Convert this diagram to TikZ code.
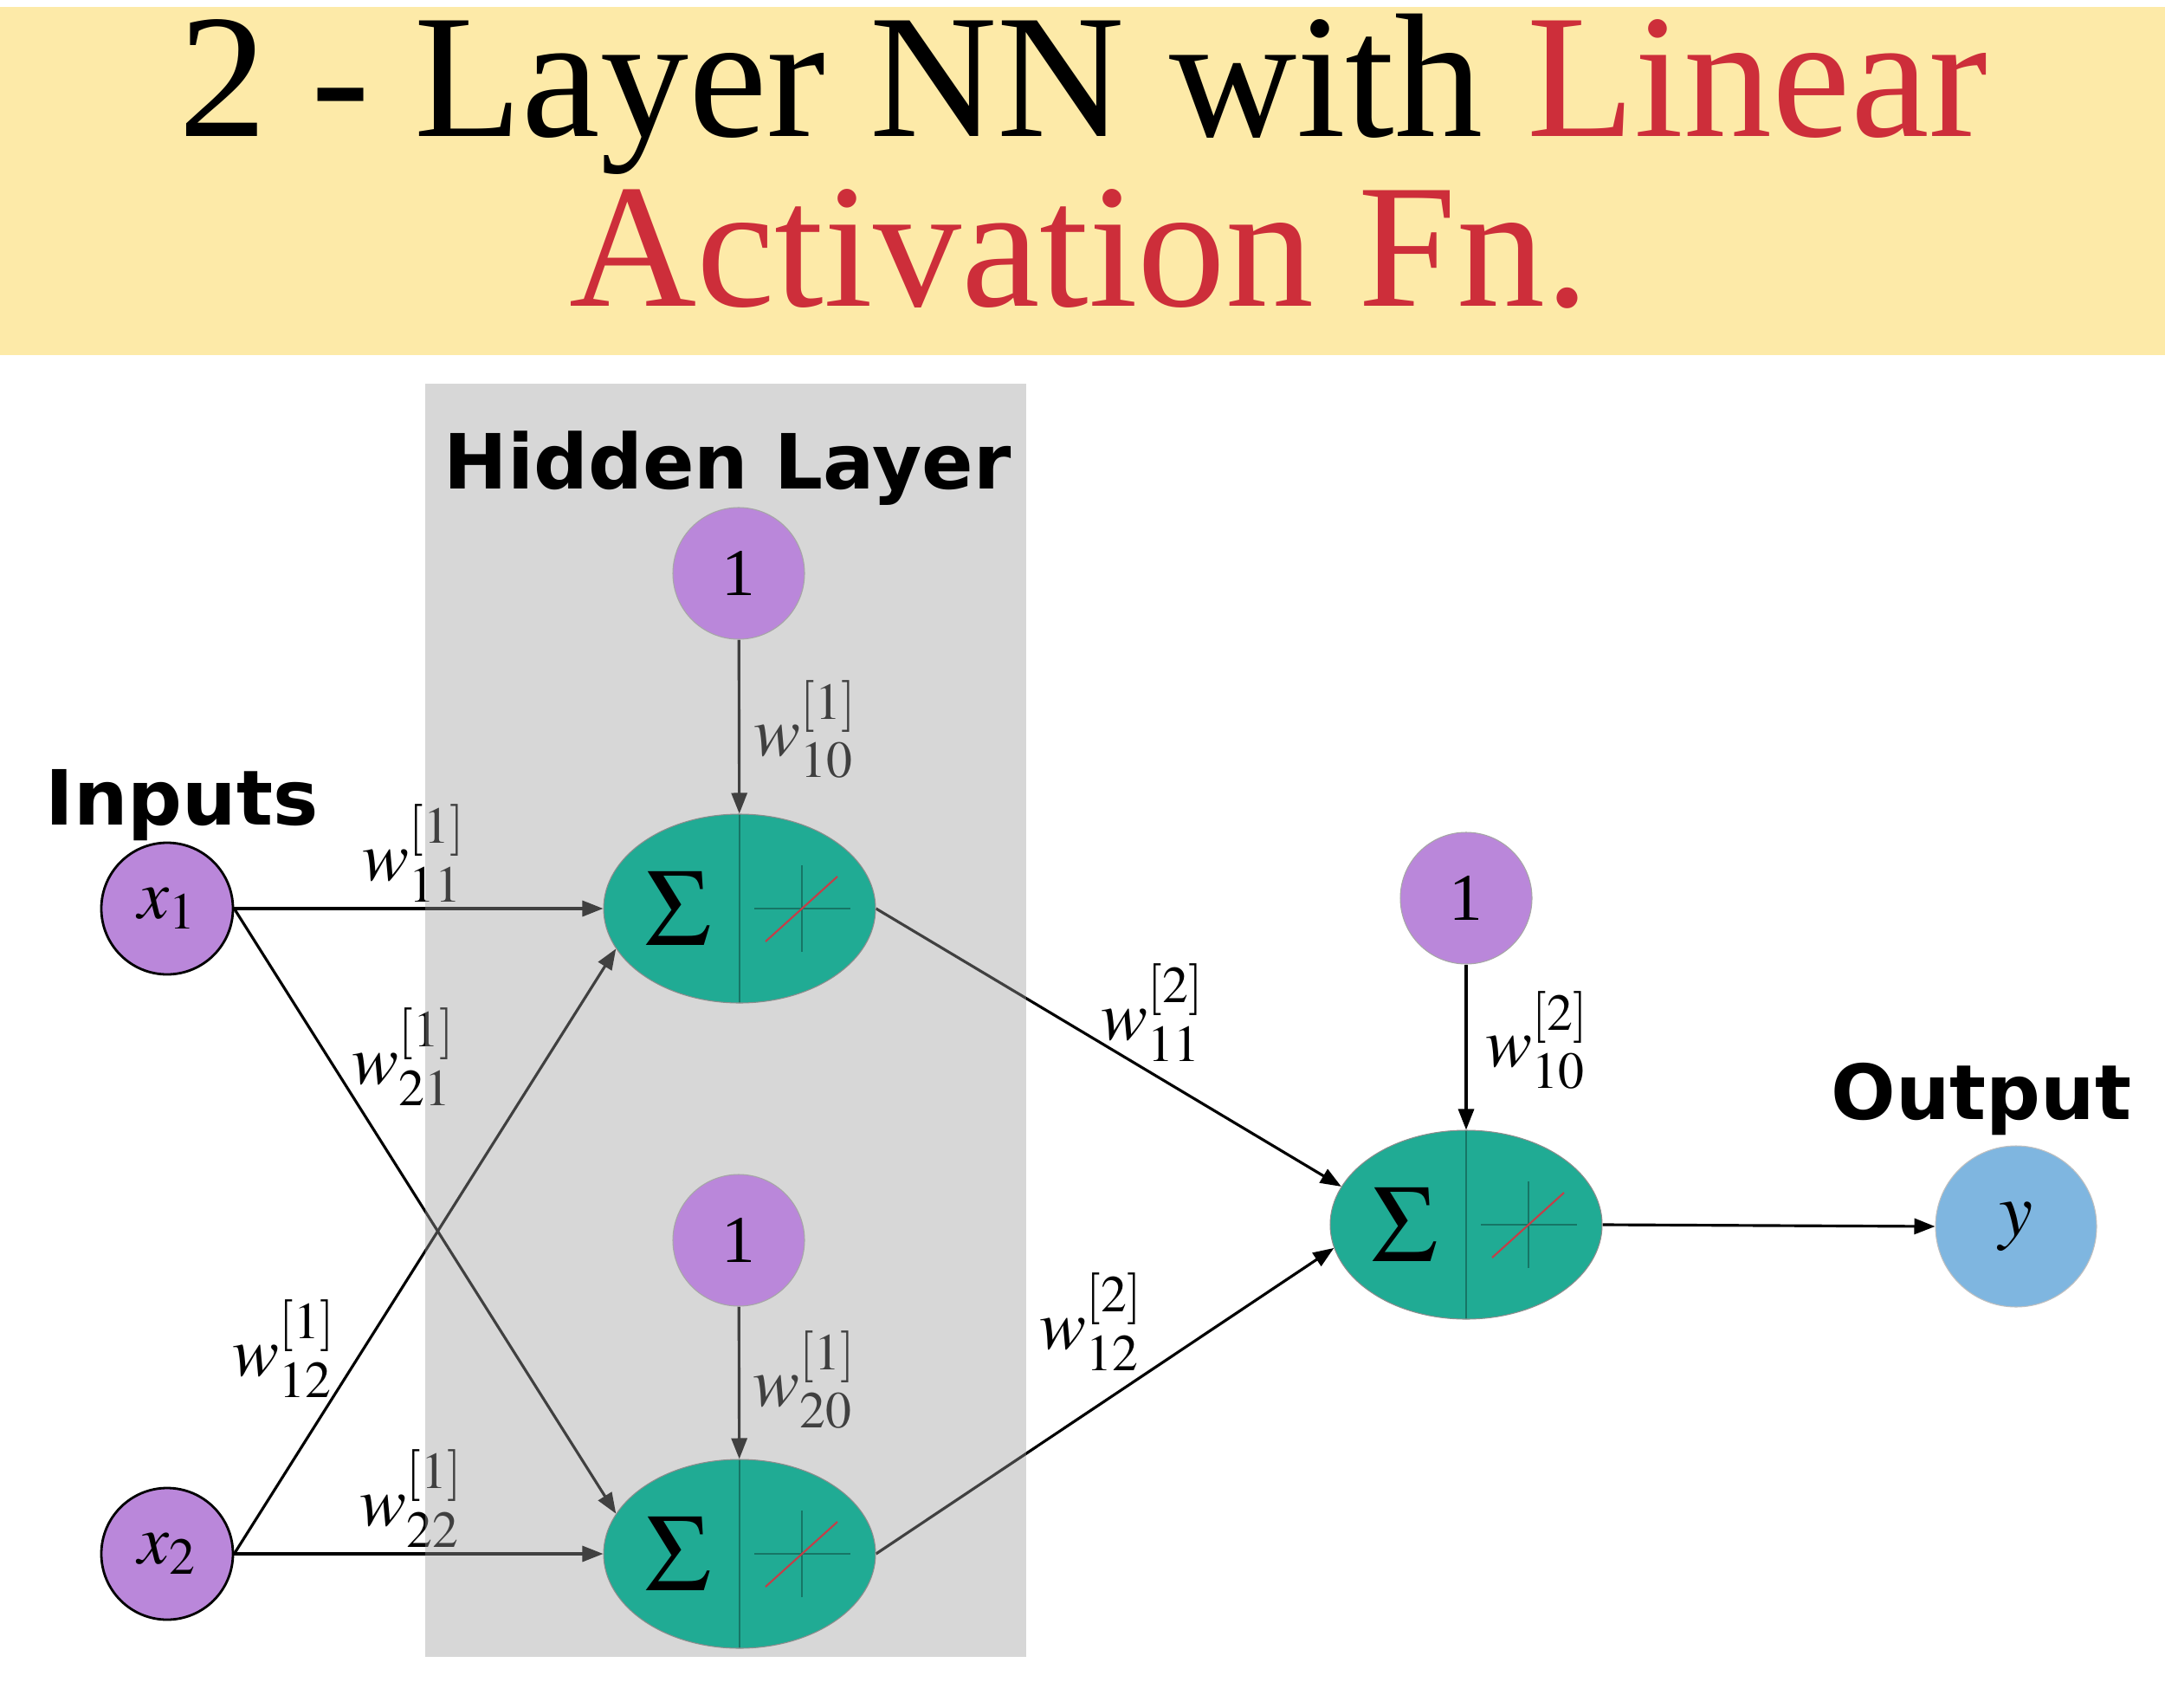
\documentclass[tikz,border=0pt]{standalone}
\usepackage{mathptmx}
\usepackage{fontspec}
\setmainfont{Liberation Serif}
\newfontfamily\labfont{DejaVu Sans}
\usetikzlibrary{arrows.meta, shapes.geometric}

\definecolor{banner}{RGB}{253,234,168}
\definecolor{titlered}{RGB}{205,46,58}
\definecolor{hidgray}{RGB}{157,157,157}
\definecolor{purp}{RGB}{186,135,218}
\definecolor{tealn}{RGB}{32,171,148}
\definecolor{tealdk}{RGB}{22,118,102}
\definecolor{redln}{RGB}{196,62,72}
\definecolor{bluen}{RGB}{127,182,224}

\pgfdeclarelayer{edges}
\pgfdeclarelayer{shading}
\pgfsetlayers{edges,shading,main}

\tikzset{
  input/.style   = {circle, draw=black, line width=0.8pt, fill=purp, minimum size=1.52cm, inner sep=0pt, font=\fontsize{23}{27}\selectfont},
  bias/.style    = {circle, draw=black!35, line width=0.3pt, fill=purp, minimum size=1.52cm, inner sep=0pt, font=\fontsize{22}{26}\selectfont},
  outnode/.style = {circle, draw=black!25, line width=0.3pt, fill=bluen, minimum size=1.86cm, inner sep=0pt, font=\fontsize{25}{30}\selectfont},
  neuron/.style  = {ellipse, draw=black!45, line width=0.3pt, fill=tealn, minimum width=3.14cm, minimum height=2.18cm, inner sep=0pt,
    path picture={
      \draw[tealdk, line width=0.6pt] (path picture bounding box.north) -- (path picture bounding box.south);
      \node[draw=none, fill=none, rectangle, font=\fontsize{36}{40}\selectfont] at ([xshift=-0.71cm]path picture bounding box.center) {$\Sigma$};
      \draw[tealdk, line width=0.6pt] ([xshift=0.17cm]path picture bounding box.center) -- ([xshift=1.28cm]path picture bounding box.center);
      \draw[tealdk, line width=0.6pt] ([xshift=0.72cm, yshift=-0.5cm]path picture bounding box.center) -- ([xshift=0.72cm, yshift=0.5cm]path picture bounding box.center);
      \draw[redln, line width=0.6pt] ([xshift=0.30cm, yshift=-0.38cm]path picture bounding box.center) -- ([xshift=1.13cm, yshift=0.37cm]path picture bounding box.center);
    }},
  wlab/.style     = {inner sep=0pt, font=\fontsize{23}{27}\selectfont},
  layerlab/.style = {anchor=base, font=\labfont\bfseries\fontsize{25}{30}\selectfont},
  arr/.style      = {-{Triangle[length=2.4mm, width=1.8mm]}, line width=0.9pt}
}

\begin{document}
\begin{tikzpicture}
  \useasboundingbox (0,0) rectangle (25,-19.72);
  % title
  \fill[banner] (0,-0.08) rectangle (25,-4.10);
  \node[anchor=base, font=\fontsize{58}{60}\selectfont] (title1) at (12.51,-1.58) {2 - Layer NN with \textcolor{titlered}{Linear}};
  \node[anchor=base, font=\fontsize{58}{60}\selectfont, text=titlered] (title2) at (12.46,-3.54) {Activation Fn.};

  % hidden layer box
  \begin{pgfonlayer}{shading}
    \fill[hidgray, fill opacity=0.41] (4.91,-4.43) rectangle (11.85,-19.13);
  \end{pgfonlayer}
  \node[layerlab] (hidlab) at (8.40,-5.64) {Hidden Layer};
  \node[layerlab] (inlab)  at (2.10,-9.52) {Inputs};
  \node[layerlab] (outlab) at (22.88,-12.92) {Output};

  \node[input]   (x1) at (1.93,-10.49)  {$x_1$};
  \node[input]   (x2) at (1.93,-17.94)  {$x_2$};
  \node[bias]    (b1) at (8.53,-6.62)   {1};
  \node[bias]    (b2) at (8.53,-14.32)  {1};
  \node[bias]    (b3) at (16.93,-10.37) {1};
  \node[neuron]  (h1) at (8.54,-10.49)  {};
  \node[neuron]  (h2) at (8.54,-17.94)  {};
  \node[neuron]  (o)  at (16.93,-14.14) {};
  \node[outnode] (y)  at (23.28,-14.16) {$y$};

  \begin{pgfonlayer}{edges}
    \draw[arr] (x1.east) -- (h1.west);
    \draw[arr] (x1.east) -- (h2.162);
    \draw[arr] (x2.east) -- (h1.198);
    \draw[arr] (x2.east) -- (h2.west);
    \draw[arr] (b1) -- (h1);
    \draw[arr] (b2) -- (h2);
    \draw[arr] (h1.east) -- (o.163);
    \draw[arr] (h2.east) -- (o.190);
    \draw[arr] (b3) -- (o);
    \draw[arr] (o.east) -- (y.west);
    \node[wlab] (wa11) at (4.78,-9.85)  {$w^{[1]}_{11}$};
    \node[wlab] (wa21) at (4.66,-12.20) {$w^{[1]}_{21}$};
    \node[wlab] (wa12) at (3.28,-15.57) {$w^{[1]}_{12}$};
    \node[wlab] (wa22) at (4.75,-17.30) {$w^{[1]}_{22}$};
    \node[wlab] (wa10) at (9.30,-8.42)  {$w^{[1]}_{10}$};
    \node[wlab] (wa20) at (9.29,-15.93) {$w^{[1]}_{20}$};
    \node[wlab] (wb11) at (13.31,-11.69) {$w^{[2]}_{11}$};
    \node[wlab] (wb12) at (12.60,-15.26) {$w^{[2]}_{12}$};
    \node[wlab] (wb10) at (17.75,-12.01) {$w^{[2]}_{10}$};
  \end{pgfonlayer}
\end{tikzpicture}
\end{document}
